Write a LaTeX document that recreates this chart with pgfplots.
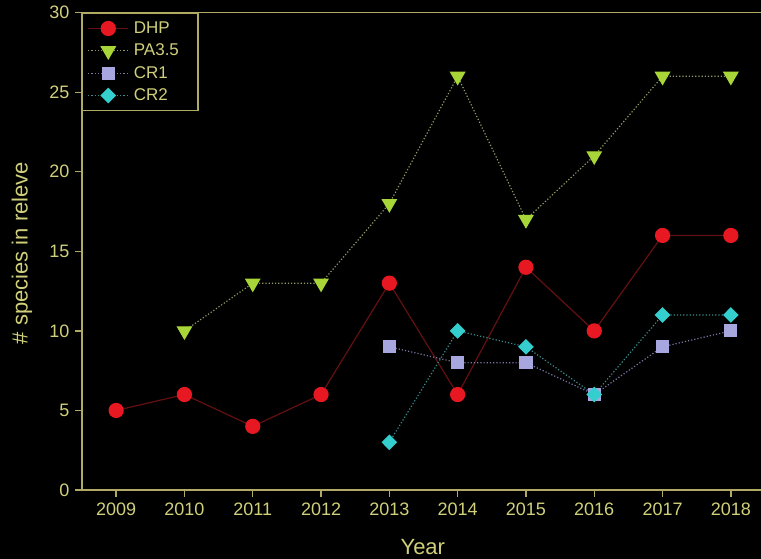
\documentclass[border=0pt]{standalone}
\usepackage{pgfplots}
\pgfplotsset{compat=1.18}
\usepackage{fontspec}
\setmainfont{Liberation Sans}

\definecolor{axisyellow}{RGB}{176,170,100}
\definecolor{textyellow}{RGB}{208,208,122}
\definecolor{dhpred}{RGB}{232,24,34}
\definecolor{dhpline}{RGB}{100,16,16}
\definecolor{pagreen}{RGB}{168,214,56}
\definecolor{paline}{RGB}{140,156,100}
\definecolor{crlav}{RGB}{168,166,222}
\definecolor{crlavline}{RGB}{120,120,166}
\definecolor{crcyan}{RGB}{52,206,206}
\definecolor{crcyanline}{RGB}{56,140,140}

% species counts per releve and year
\pgfplotstableread{
year n
2009 5
2010 6
2011 4
2012 6
2013 13
2014 6
2015 14
2016 10
2017 16
2018 16
}\dhp
\pgfplotstableread{
year n
2010 10
2011 13
2012 13
2013 18
2014 26
2015 17
2016 21
2017 26
2018 26
}\pathreefive
\pgfplotstableread{
year n
2013 9
2014 8
2015 8
2016 6
2017 9
2018 10
}\crone
\pgfplotstableread{
year n
2013 3
2014 10
2015 9
2016 6
2017 11
2018 11
}\crtwo

\newcommand{\entry}[1]{\makebox[57pt][l]{#1}}

\begin{document}
\begin{tikzpicture}[x=1pt,y=1pt]
\path[use as bounding box, fill=black] (0,0) rectangle (761,559);
\begin{axis}[
  at={(82pt,69pt)}, anchor=south west,
  scale only axis, width=683pt, height=477.3pt,
  xmin=2008.5, xmax=2018.5, ymin=0, ymax=30,
  xtick={2009,2010,...,2018}, ytick={0,5,...,30},
  tick pos=left, tick align=outside,
  major tick length=7pt,
  axis line style={draw=axisyellow, line width=1.6pt},
  every tick/.style={draw=axisyellow, line width=1.4pt},
  /pgf/number format/assume math mode=true,
  /pgf/number format/1000 sep={},
  ticklabel style={font=\fontsize{18}{20}\selectfont, text=textyellow},
  xticklabel style={yshift=-2pt},
  yticklabel style={xshift=-2pt},
  xlabel={Year},
  ylabel={\# species in releve},
  label style={font=\fontsize{22}{24}\selectfont, text=textyellow},
  xlabel style={at={(axis description cs:0.499,-0.1195)}, anchor=center},
  ylabel style={at={(axis description cs:-0.0878,0.4966)}, anchor=center},
  legend style={at={(0,1)}, anchor=north west, draw=axisyellow, line width=1.4pt,
    fill=black, text=textyellow, font=\fontsize{17}{19}\selectfont,
    inner xsep=5pt, inner ysep=6.5pt, row sep=5pt, column sep=3pt,
    cells={anchor=west}},
  legend image code/.code={\draw[mark repeat=2,mark phase=2,#1]
    plot coordinates {(0pt,0pt) (20pt,0pt) (40pt,0pt)};},
]
\addplot[dhpline, line width=1.2pt, mark=*, mark size=7pt,
  mark options={solid, fill=dhpred, draw=dhpred}] table[x=year,y=n] {\dhp};
\addlegendentry{\entry{DHP}}
\addplot[paline, line width=1.2pt, dash pattern=on 1.2pt off 2pt,
  mark=triangle*, mark size=8pt,
  mark options={solid, rotate=180, fill=pagreen, draw=pagreen}] table[x=year,y=n] {\pathreefive};
\addlegendentry{\entry{PA3.5}}
\addplot[crlavline, line width=1.2pt, dash pattern=on 1.2pt off 2pt,
  mark=square*, mark size=6pt,
  mark options={solid, fill=crlav, draw=crlav}] table[x=year,y=n] {\crone};
\addlegendentry{\entry{CR1}}
\addplot[crcyanline, line width=1.2pt, dash pattern=on 1.2pt off 2pt,
  mark=diamond*, mark size=7pt,
  mark options={solid, xscale=1.33, fill=crcyan, draw=crcyan}] table[x=year,y=n] {\crtwo};
\addlegendentry{\entry{CR2}}
\end{axis}
\end{tikzpicture}
\end{document}
